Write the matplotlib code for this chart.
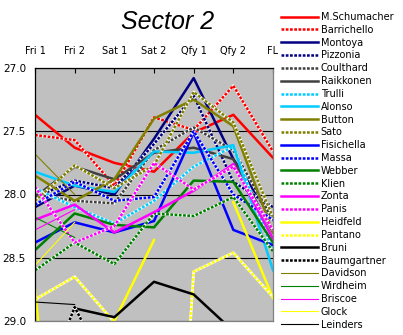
import numpy as np
import matplotlib
matplotlib.use("Agg")
import matplotlib.pyplot as plt
import matplotlib.patheffects as pe

nan = np.nan

sessions = ["Fri 1", "Fri 2", "Sat 1", "Sat 2", "Qfy 1", "Qfy 2", "FL"]

# sector 2 times (s) per session
schumacher = [27.37, 27.63, 27.75, 27.82, 27.51, 27.37, 27.71]
barrichello = [27.53, 27.57, 27.93, 27.39, 27.49, 27.14, 27.66]
montoya = [28.10, 27.93, 28.00, 27.56, 27.08, 27.72, 28.20]
pizzonia = [28.02, 27.89, 27.95, 27.60, 27.22, 27.90, 28.10]
coulthard = [28.00, 28.05, 28.07, 27.65, 27.47, 27.65, 28.20]
raikkonen = [28.02, 27.78, 27.88, 27.67, 27.63, 27.72, 28.30]
trulli = [27.95, 28.10, 28.23, 28.05, 27.78, 27.62, 28.45]
alonso = [27.82, 27.93, 27.98, 27.66, 27.67, 27.61, 28.60]
button = [27.85, 28.05, 27.88, 27.40, 27.25, 27.46, 28.30]
sato = [28.05, 27.77, 27.95, 27.77, 27.19, 27.43, 28.18]
fisichella = [28.38, 28.22, 28.30, 28.21, 27.51, 28.28, 28.40]
massa = [28.08, 27.90, 28.05, 28.02, 27.50, 28.00, 28.20]
webber = [28.44, 28.15, 28.24, 28.26, 27.89, 27.90, 28.38]
klien = [28.60, 28.38, 28.55, 28.15, 28.17, 28.02, 28.45]
zonta = [28.20, 28.08, 28.30, 28.14, 27.97, 27.76, 28.35]
panis = [27.94, 28.38, 28.25, 27.75, 27.96, 27.78, 28.28]
heidfeld = [28.75, 31.90, 29.00, 28.36, nan, 28.06, 28.82]
pantano = [28.83, 28.65, 29.01, 33.50, 28.61, 28.46, 28.81]
bruni = [nan, 28.90, 28.97, 28.69, 28.79, 29.08, nan]
baumgartner = [29.70, 28.89, 29.50, nan, nan, nan, nan]
davidson = [27.68, 28.00, nan, nan, nan, nan, nan]
wirdheim = [28.18, 28.34, nan, nan, nan, nan, nan]
briscoe = [28.28, 28.12, nan, nan, nan, nan, nan]
glock = [28.56, 28.22, nan, nan, nan, nan, nan]
leinders = [28.85, 28.87, nan, nan, nan, nan, nan]

drivers = ["M.Schumacher", "Barrichello", "Montoya", "Pizzonia", "Coulthard",
           "Raikkonen", "Trulli", "Alonso", "Button", "Sato", "Fisichella",
           "Massa", "Webber", "Klien", "Zonta", "Panis", "Heidfeld", "Pantano",
           "Bruni", "Baumgartner", "Davidson", "Wirdheim", "Briscoe", "Glock",
           "Leinders"]
times = [schumacher, barrichello, montoya, pizzonia, coulthard, raikkonen,
         trulli, alonso, button, sato, fisichella, massa, webber, klien, zonta,
         panis, heidfeld, pantano, bruni, baumgartner, davidson, wirdheim,
         briscoe, glock, leinders]
colors = ["#FF0000", "#FF0000", "#000080", "#000080", "#404040", "#404040",
          "#00CCFF", "#00CCFF", "#808000", "#808000", "#0000FF", "#0000FF",
          "#008000", "#008000", "#FF00FF", "#FF00FF", "#FFFF00", "#FFFF00",
          "#000000", "#000000", "#808000", "#008000", "#FF00FF", "#FFFF00",
          "#000000"]
kinds = ["solid", "dotted", "solid", "dotted", "dotted", "solid",
         "dotted", "solid", "solid", "dotted", "solid", "dotted",
         "solid", "dotted", "solid", "dotted", "solid", "dotted",
         "solid", "dotted", "thin", "thin", "thin", "thin", "thin"]

fig = plt.figure(figsize=(4.03, 3.35), dpi=100)
ax = fig.add_axes([35 / 403, 1 - 321 / 335, 238 / 403, 253 / 335])
ax.set_facecolor("#C0C0C0")

# white line under the dotted series, like the old Excel pattern
white_under = [pe.Stroke(linewidth=2.0, foreground="white",
                         dashes={"dash_offset": 0, "dash_list": None}),
               pe.Normal()]

x = np.arange(len(sessions))
for name, t, c, k in zip(drivers, times, colors, kinds):
    if k == "solid":
        ax.plot(x, t, color=c, lw=1.8, label=name)
    elif k == "dotted":
        ax.plot(x, t, color=c, lw=1.8, ls=(0, (1.1, 0.6)), label=name,
                path_effects=white_under)
    else:
        ax.plot(x, t, color=c, lw=0.8, label=name)

ax.set_xlim(0, len(sessions) - 1)
ax.set_ylim(29.0, 27.0)
ax.set_yticks([27.0, 27.5, 28.0, 28.5, 29.0])
ax.set_yticklabels(["27.0", "27.5", "28.0", "28.5", "29.0"])
ax.set_xticks(x)
ax.set_xticklabels(sessions)
ax.xaxis.tick_top()
ax.tick_params(axis="x", direction="in", length=3.5, width=0.8, pad=8.5,
               labelsize=7)
ax.tick_params(axis="y", length=0, pad=6.5, labelsize=7.5)
ax.grid(axis="y", color="black", lw=0.8)
ax.set_axisbelow(True)

ax.spines["left"].set_color("black")
ax.spines["top"].set_color("black")
ax.spines["right"].set_color("#808080")
ax.spines["bottom"].set_color("#808080")
for s in ax.spines.values():
    s.set_linewidth(0.9)

fig.text(168 / 403, 1 - 22 / 335, "Sector 2", fontsize=18, style="italic",
         family="Liberation Sans", ha="center", va="center")

fig.legend(loc="upper left", bbox_to_anchor=(281 / 403, 1 - 12 / 335),
           frameon=False, fontsize=7, borderpad=0, borderaxespad=0,
           handlelength=3.8, handletextpad=0.3, labelspacing=0.29)

fig.savefig("out.png", dpi=100)
